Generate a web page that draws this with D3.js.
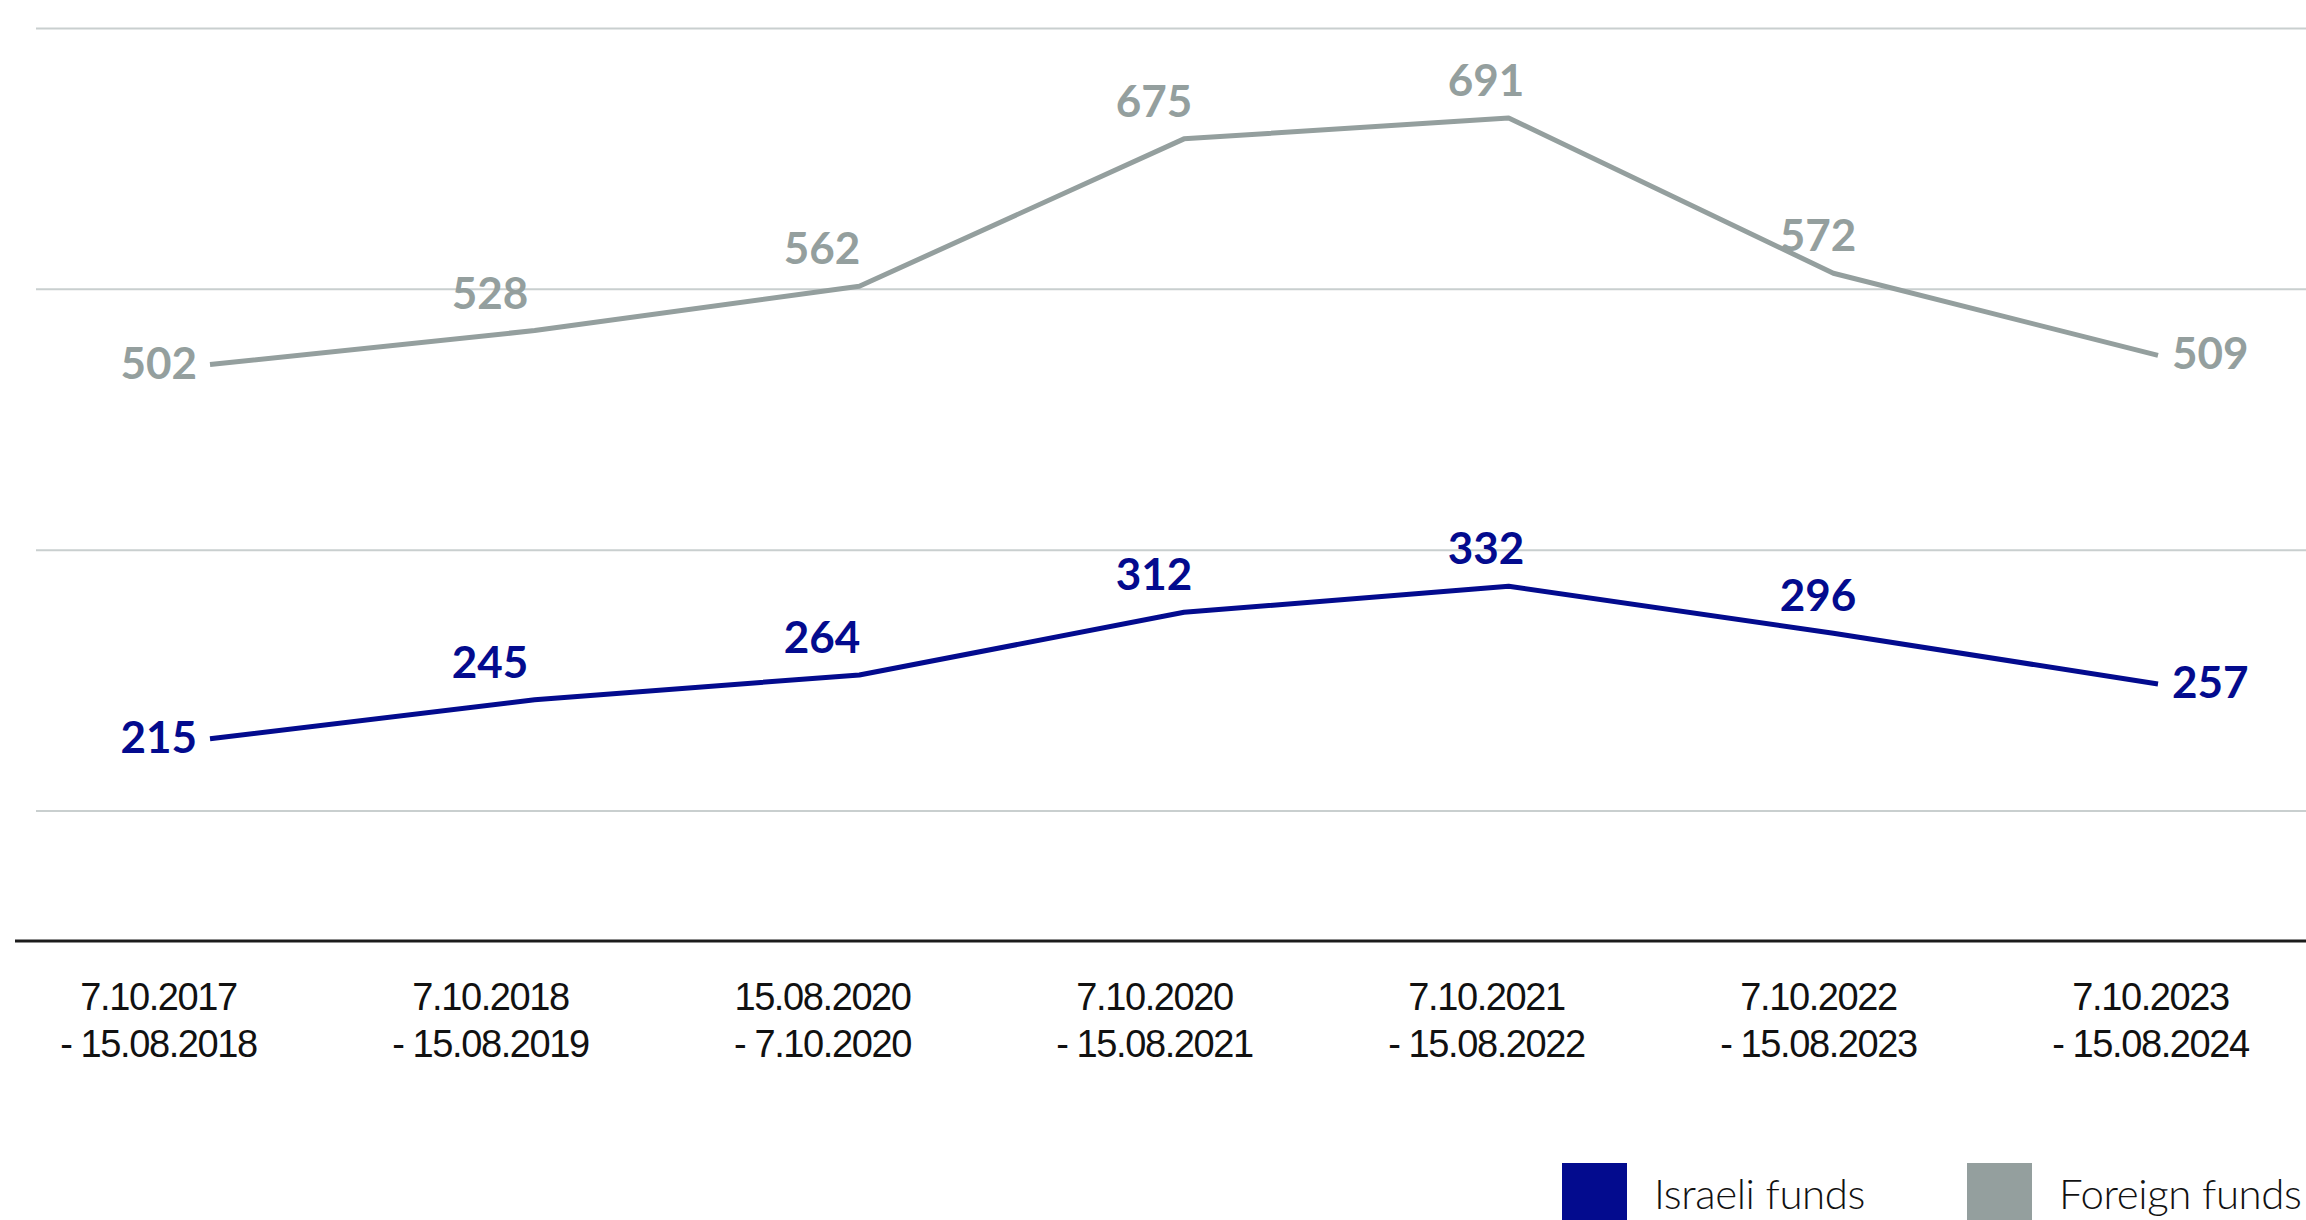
<!DOCTYPE html>
<html>
<head>
<meta charset="utf-8">
<script src="https://cdn.jsdelivr.net/npm/d3@7"></script>
<style>
  html, body { margin: 0; padding: 0; background: #fff; }
  svg { display: block; font-family: Lato, "Open Sans", sans-serif; }
</style>
</head>
<body>
<svg></svg>
<script>
let width = 2306, height = 1220;

// data
const periods = ["7.10.2017 - 15.08.2018", "7.10.2018 - 15.08.2019", "15.08.2020 - 7.10.2020",
  "7.10.2020 - 15.08.2021", "7.10.2021 - 15.08.2022", "7.10.2022 - 15.08.2023", "7.10.2023 - 15.08.2024"];
const foreignFunds = [502, 528, 562, 675, 691, 572, 509];
const israeliFunds = [215, 245, 264, 312, 332, 296, 257];
const gridValues = [160, 360, 560, 760];
const seriesNames = ["Israeli funds", "Foreign funds"];

const blue = "#030b8e", gray = "#949f9e";

let svg = d3.select("svg")
    .attr("width", width)
    .attr("height", height)
    .attr("viewBox", "0 0 " + width + " " + height);

svg.append("rect").attr("width", width).attr("height", height).attr("fill", "#fff");

// scales
let x = d3.scalePoint().domain(periods).range([210, 2158]);
// category labels sit a little left of the points
let xLab = x.copy().range([158, 2150]);
let y = d3.scaleLinear().domain([60, 760]).range([941, 28]);

// gridlines
svg.append("g")
    .attr("transform", "translate(36,0)")
    .call(d3.axisLeft(y).tickValues(gridValues).tickSize(-(width - 36)).tickFormat(""))
    .call(g => g.select(".domain").remove())
    .call(g => g.selectAll(".tick line").attr("stroke", "#c9cfcf").attr("stroke-width", 2));

// baseline
svg.append("line")
    .attr("x1", 15).attr("x2", width)
    .attr("y1", y(60)).attr("y2", y(60))
    .attr("stroke", "#1c1c1c").attr("stroke-width", 3);

// category labels (two lines each)
let xAxis = svg.append("g")
    .attr("transform", "translate(0," + y(60) + ")")
    .call(d3.axisBottom(xLab).tickSize(0).tickFormat(""));
xAxis.select(".domain").remove();
xAxis.selectAll(".tick").append("text")
    .attr("fill", "#111")
    .attr("text-anchor", "middle")
    .attr("font-size", 38)
    .attr("font-weight", 300)
    .attr("letter-spacing", -1.4)
    .selectAll("tspan")
    .data(d => { let k = d.indexOf(" - "); return [d.slice(0, k), d.slice(k + 1)]; })
    .enter()
    .append("tspan")
    .attr("x", 0)
    .attr("y", (d, i) => 69 + i * 47)
    .text(d => d);

let line = d3.line()
    .x((d, i) => x(periods[i]))
    .y(d => y(d));

const series = [
    { name: seriesNames[1], values: foreignFunds, color: gray },
    { name: seriesNames[0], values: israeliFunds, color: blue }
];

series.forEach(s => {
    svg.append("path")
        .datum(s.values)
        .attr("d", line)
        .attr("fill", "none")
        .attr("stroke", s.color)
        .attr("stroke-width", 5)
        .attr("stroke-linejoin", "round");

    let last = s.values.length - 1;
    svg.append("g")
        .selectAll("text")
        .data(s.values)
        .enter()
        .append("text")
        .attr("fill", s.color)
        .attr("font-size", 44)
        .attr("font-weight", 700)
        .attr("text-anchor", (d, i) => i === 0 ? "end" : (i === last ? "start" : "middle"))
        .attr("x", (d, i) => i === 0 ? x(periods[i]) - 13 : (i === last ? x(periods[i]) + 14 : xLab(periods[i])))
        .attr("y", (d, i) => (i === 0 || i === last) ? y(d) + 14 : y(d) - 22)
        .text(d => d);
});

// legend
let legend = svg.append("g")
    .selectAll("g")
    .data([{ name: seriesNames[0], color: blue }, { name: seriesNames[1], color: gray }])
    .enter()
    .append("g")
    .attr("transform", (d, i) => "translate(" + (1562 + i * 405) + ",1163)");

legend.append("rect")
    .attr("width", 65).attr("height", 65)
    .attr("fill", d => d.color);

legend.append("text")
    .attr("x", 92).attr("y", 46)
    .attr("font-size", 42)
    .attr("font-weight", 300)
    .attr("letter-spacing", -0.4)
    .attr("fill", "#111")
    .text(d => d.name);
</script>
</body>
</html>
